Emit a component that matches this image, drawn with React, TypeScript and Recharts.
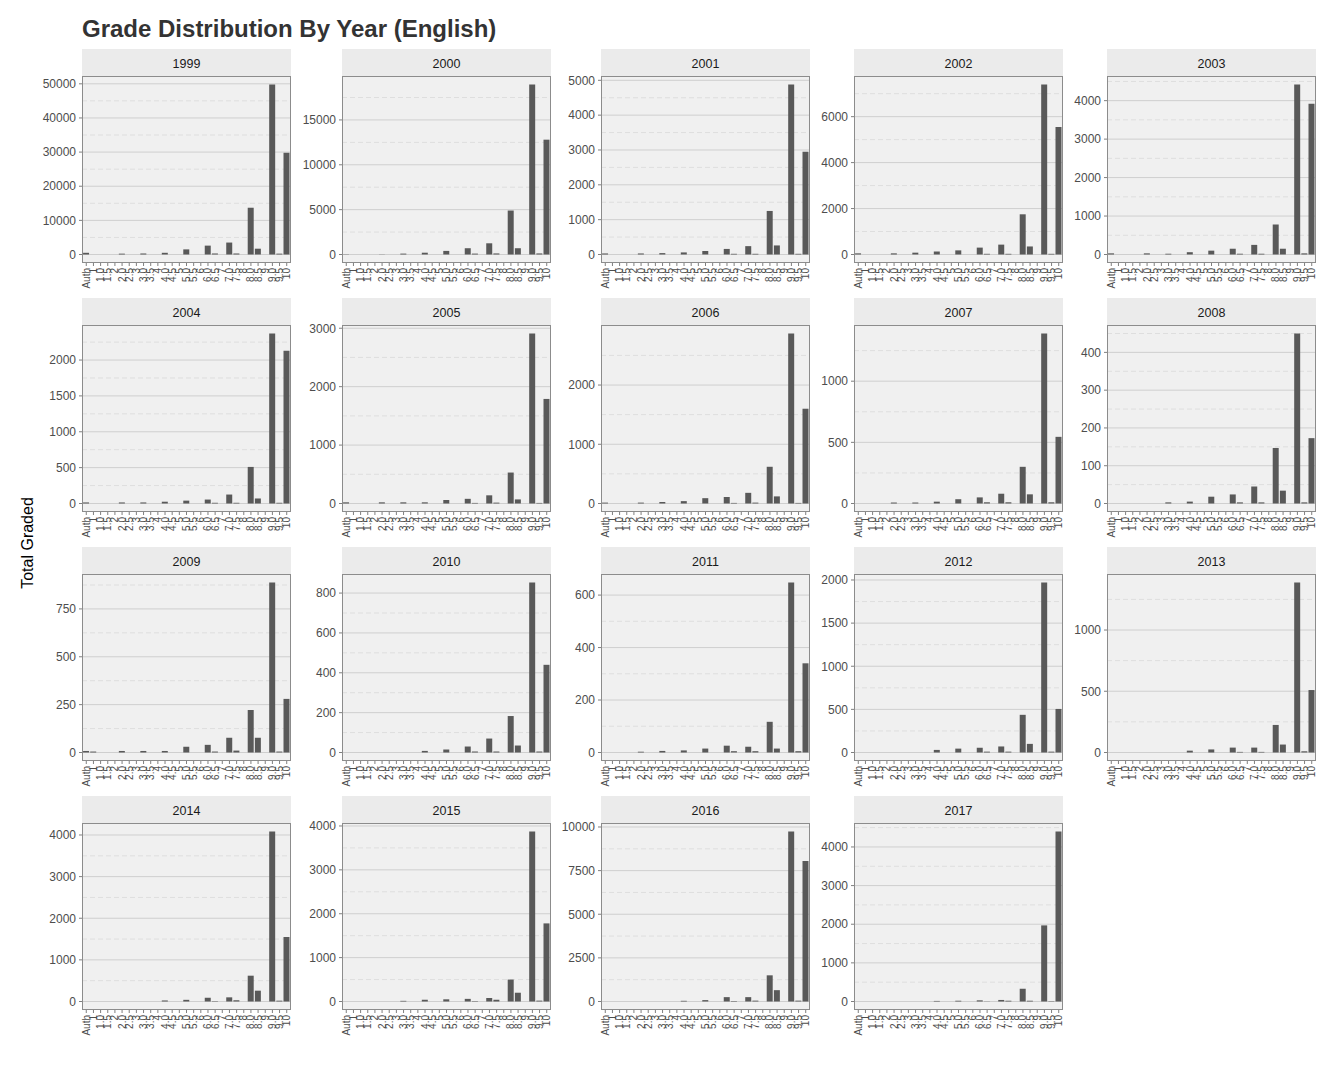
import React from 'react';
import { BarChart, Bar, XAxis, YAxis, CartesianGrid } from 'recharts';

const grades = ['Auth', '1', '1.0', '1.5', '2', '2.0', '2.5', '3', '3.0', '3.5', '4', '4.0', '4.5', '5', '5.0', '5.5', '6', '6.0', '6.5', '7', '7.0', '7.5', '8', '8.0', '8.5', '9', '9.0', '9.5', '10'];

const years = ['1999', '2000', '2001', '2002', '2003', '2004', '2005', '2006', '2007', '2008', '2009', '2010', '2011', '2012', '2013', '2014', '2015', '2016', '2017'];

const counts1999 = [500, 0, 0, 0, 0, 250, 0, 0, 300, 0, 0, 500, 0, 0, 1500, 0, 0, 2600, 300, 0, 3500, 300, 0, 13700, 1700, 0, 49800, 250, 29800];
const counts2000 = [30, 0, 0, 0, 0, 20, 0, 0, 100, 0, 0, 200, 0, 0, 400, 0, 0, 700, 100, 0, 1250, 120, 0, 4900, 700, 0, 18950, 120, 12800];
const counts2001 = [30, 0, 0, 0, 0, 30, 0, 0, 40, 0, 0, 60, 0, 0, 100, 0, 0, 160, 20, 0, 240, 20, 0, 1250, 260, 0, 4880, 20, 2950];
const counts2002 = [50, 0, 0, 0, 0, 50, 0, 0, 80, 0, 0, 130, 0, 0, 180, 0, 0, 300, 30, 0, 430, 30, 0, 1750, 350, 0, 7400, 30, 5550];
const counts2003 = [30, 0, 0, 0, 0, 30, 0, 0, 20, 0, 0, 60, 0, 0, 100, 0, 0, 150, 20, 0, 250, 20, 0, 780, 150, 0, 4420, 30, 3920];
const counts2004 = [15, 0, 0, 0, 0, 15, 0, 0, 15, 0, 0, 25, 0, 0, 40, 0, 0, 55, 10, 0, 125, 10, 0, 510, 70, 0, 2370, 10, 2130];
const counts2005 = [20, 0, 0, 0, 0, 20, 0, 0, 20, 0, 0, 20, 0, 0, 60, 0, 0, 80, 10, 0, 140, 15, 0, 530, 70, 0, 2910, 10, 1790];
const counts2006 = [15, 0, 0, 0, 0, 15, 0, 0, 25, 0, 0, 40, 0, 0, 90, 0, 0, 110, 10, 0, 180, 15, 0, 620, 120, 0, 2870, 10, 1600];
const counts2007 = [0, 0, 0, 0, 0, 8, 0, 0, 8, 0, 0, 15, 0, 0, 35, 0, 0, 50, 10, 0, 80, 10, 0, 300, 75, 0, 1390, 10, 545];
const counts2008 = [0, 0, 0, 0, 0, 0, 0, 0, 3, 0, 0, 5, 0, 0, 18, 0, 0, 24, 3, 0, 45, 3, 0, 147, 34, 0, 450, 3, 173];
const counts2009 = [8, 5, 0, 0, 0, 8, 0, 0, 8, 0, 0, 8, 0, 0, 30, 0, 0, 40, 5, 0, 77, 10, 0, 222, 77, 0, 888, 5, 280];
const counts2010 = [0, 0, 0, 0, 0, 0, 0, 0, 0, 0, 0, 8, 0, 0, 15, 0, 0, 30, 5, 0, 70, 5, 0, 183, 35, 0, 853, 5, 440];
const counts2011 = [0, 0, 0, 0, 0, 3, 0, 0, 6, 0, 0, 8, 0, 0, 15, 0, 0, 26, 5, 0, 22, 5, 0, 117, 15, 0, 648, 5, 340];
const counts2012 = [0, 0, 0, 0, 0, 0, 0, 0, 0, 0, 0, 30, 0, 0, 45, 0, 0, 55, 10, 0, 70, 10, 0, 437, 100, 0, 1971, 10, 505];
const counts2013 = [0, 0, 0, 0, 0, 0, 0, 0, 0, 0, 0, 15, 0, 0, 25, 0, 0, 40, 5, 0, 40, 5, 0, 225, 65, 0, 1388, 10, 510];
const counts2014 = [0, 0, 0, 0, 0, 0, 0, 0, 0, 0, 0, 25, 0, 0, 40, 0, 0, 90, 10, 0, 100, 30, 0, 620, 260, 0, 4084, 20, 1550];
const counts2015 = [0, 0, 0, 0, 0, 0, 0, 0, 15, 0, 0, 40, 0, 0, 50, 0, 0, 60, 10, 0, 80, 40, 0, 500, 200, 0, 3874, 20, 1780];
const counts2016 = [0, 0, 0, 0, 0, 0, 0, 0, 0, 0, 0, 40, 0, 0, 80, 0, 0, 250, 30, 0, 250, 50, 0, 1500, 650, 0, 9742, 50, 8050];
const counts2017 = [0, 0, 0, 0, 0, 0, 0, 0, 0, 0, 0, 15, 0, 0, 20, 0, 0, 30, 5, 0, 40, 20, 0, 330, 20, 0, 1970, 10, 4400];

const countsByYear = [counts1999, counts2000, counts2001, counts2002, counts2003, counts2004, counts2005, counts2006, counts2007, counts2008, counts2009, counts2010, counts2011, counts2012, counts2013, counts2014, counts2015, counts2016, counts2017];

const majorTicks = [
  [0, 10000, 20000, 30000, 40000, 50000],
  [0, 5000, 10000, 15000],
  [0, 1000, 2000, 3000, 4000, 5000],
  [0, 2000, 4000, 6000],
  [0, 1000, 2000, 3000, 4000],
  [0, 500, 1000, 1500, 2000],
  [0, 1000, 2000, 3000],
  [0, 1000, 2000],
  [0, 500, 1000],
  [0, 100, 200, 300, 400],
  [0, 250, 500, 750],
  [0, 200, 400, 600, 800],
  [0, 200, 400, 600],
  [0, 500, 1000, 1500, 2000],
  [0, 500, 1000],
  [0, 1000, 2000, 3000, 4000],
  [0, 1000, 2000, 3000, 4000],
  [0, 2500, 5000, 7500, 10000],
  [0, 1000, 2000, 3000, 4000],
];

const minorTicks = [
  [5000, 15000, 25000, 35000, 45000],
  [2500, 7500, 12500, 17500],
  [500, 1500, 2500, 3500, 4500],
  [1000, 3000, 5000, 7000],
  [500, 1500, 2500, 3500, 4500],
  [250, 750, 1250, 1750, 2250],
  [500, 1500, 2500],
  [500, 1500, 2500],
  [250, 750, 1250],
  [50, 150, 250, 350, 450],
  [125, 375, 625, 875],
  [100, 300, 500, 700],
  [100, 300, 500],
  [250, 750, 1250, 1750],
  [250, 750, 1250],
  [500, 1500, 2500, 3500],
  [500, 1500, 2500, 3500],
  [1250, 3750, 6250, 8750],
  [500, 1500, 2500, 3500, 4500],
];

const FONT = '"Liberation Sans", Arial, Helvetica, sans-serif';
const COL_X = [82, 342, 601, 854, 1107];
const ROW_Y = [49, 298, 547, 796];
const PANEL_W = 209;
const PANEL_H = 187;
const STRIP_H = 27;
const YW = 70;
const XH = 38;
const TOP_PAD = 10;

const XTick = (props: any) => {
  const { x, y, payload } = props;
  return (
    <text
      transform={`translate(${x},${y}) rotate(-90)`}
      textAnchor="end"
      dominantBaseline="central"
      fontSize={10}
      fill="#4d4d4d"
      fontFamily={FONT}
    >
      {payload.value}
    </text>
  );
};

function Panel({ idx }: { idx: number }) {
  const col = idx % 5;
  const row = Math.floor(idx / 5);
  const left = COL_X[col];
  const top = ROW_Y[row];
  const values = countsByYear[idx];
  const data = grades.map((g, i) => ({ grade: g, n: values[i] }));
  const max = Math.max(...values);
  const domain = [-0.05 * max, 1.05 * max];
  return (
    <>
      <div
        style={{
          position: 'absolute',
          left,
          top,
          width: PANEL_W,
          height: STRIP_H,
          background: '#ebebeb',
          color: '#1a1a1a',
          fontFamily: FONT,
          fontSize: 12.5,
          lineHeight: `${STRIP_H + 3}px`,
          textAlign: 'center',
        }}
      >
        {years[idx]}
      </div>
      <div style={{ position: 'absolute', left: left - YW, top: top + STRIP_H - TOP_PAD }}>
        <BarChart
          width={YW + PANEL_W}
          height={PANEL_H + XH + TOP_PAD}
          data={data}
          margin={{ top: TOP_PAD, right: 0, bottom: 0, left: 0 }}
          barCategoryGap="5%"
        >
          <CartesianGrid
            vertical={false}
            horizontalValues={majorTicks[idx]}
            stroke="#cfcfcf"
            fill="#f0f0f0"
            fillOpacity={1}
          />
          <CartesianGrid
            vertical={false}
            horizontalValues={minorTicks[idx]}
            stroke="#dedede"
            strokeDasharray="5 3"
          />
          <XAxis
            dataKey="grade"
            type="category"
            interval={0}
            height={XH}
            padding={{ left: 0.7, right: 0.7 }}
            axisLine={false}
            tickLine={{ stroke: '#7f7f7f' }}
            tickSize={3}
            tickMargin={2}
            tick={<XTick />}
          />
          <YAxis
            type="number"
            width={YW}
            domain={domain}
            ticks={majorTicks[idx]}
            interval={0}
            axisLine={false}
            tickLine={{ stroke: '#7f7f7f' }}
            tickSize={3}
            tickMargin={3}
            tick={{ fontSize: 12, fill: '#4d4d4d', fontFamily: FONT }}
            tickFormatter={(v: number) => String(v)}
          />
          <Bar dataKey="n" fill="#595959" isAnimationActive={false} />
        </BarChart>
      </div>
      <div
        style={{
          position: 'absolute',
          left,
          top: top + STRIP_H,
          width: PANEL_W,
          height: PANEL_H,
          border: '1px solid #8c8c8c',
          boxSizing: 'border-box',
          pointerEvents: 'none',
        }}
      />
    </>
  );
}

export default function App() {
  return (
    <div
      style={{
        position: 'absolute',
        left: 0,
        top: 0,
        width: 1336,
        height: 1078,
        background: '#ffffff',
        fontFamily: FONT,
        overflow: 'hidden',
      }}
    >
      <div
        style={{
          position: 'absolute',
          left: 82,
          top: 15,
          fontSize: 24,
          fontWeight: 'bold',
          color: '#333333',
          lineHeight: '28px',
          whiteSpace: 'nowrap',
        }}
      >
        Grade Distribution By Year (English)
      </div>
      <div
        style={{
          position: 'absolute',
          left: 28,
          top: 543,
          transform: 'translate(-50%, -50%) rotate(-90deg)',
          fontSize: 16,
          color: '#000000',
          whiteSpace: 'nowrap',
        }}
      >
        Total Graded
      </div>
      {years.map((y, i) => (
        <Panel key={y} idx={i} />
      ))}
    </div>
  );
}
